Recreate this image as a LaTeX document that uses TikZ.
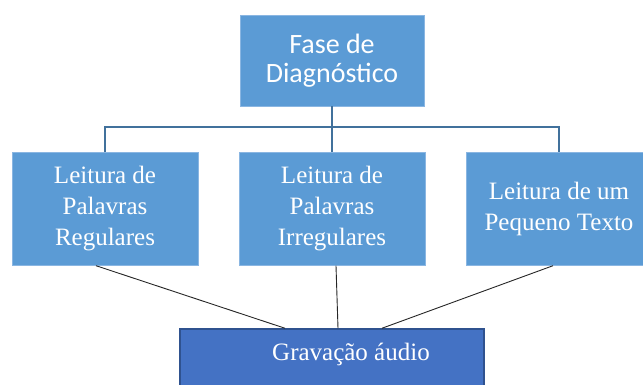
\documentclass[tikz,border=0pt]{standalone}
\usepackage{fontspec}
\setmainfont{Liberation Serif}
\newfontfamily\calibri{Carlito}
\usetikzlibrary{calc}
\definecolor{caixa}{HTML}{5B9BD5}
\definecolor{caixaborda}{HTML}{8AB6E2}
\definecolor{ramos}{HTML}{41719C}
\definecolor{audio}{HTML}{4472C4}
\definecolor{audioborda}{HTML}{2F528F}

\begin{document}
\begin{tikzpicture}[x=1pt, y=-1pt,
    caixa/.style={draw=caixaborda, fill=caixa, text=white, align=center,
        minimum width=186pt, minimum height=113pt, inner sep=0pt,
        font=\fontsize{25}{31}\selectfont},
    topo/.style={caixa, minimum width=184pt, minimum height=91pt,
        font=\calibri\fontsize{28}{29}\selectfont},
    ramo/.style={draw=ramos, line width=2pt},
    ligacao/.style={draw=black!85, line width=0.9pt}]
    \clip (0,0) rectangle (643,385);
    \fill[white] (0,0) rectangle (643,385);

    % === Top: phase ===
    \node[topo] (fase) at (332,60.5) {Fase de\\Diagnóstico};

    % === Middle: three reading tasks ===
    \node[caixa] (leitA) at (105,209) {Leitura de\\Palavras\\Regulares};
    \node[caixa] (leitB) at (332,209) {Leitura de\\Palavras\\Irregulares};
    \node[caixa] (leitC) at (559,209) {Leitura de um\\Pequeno Texto};

    % Tree connector
    \draw[ramo] (fase.south) -- ++(0,21) coordinate (junta);
    \draw[ramo] (leitA.north) |- (junta) -| (leitC.north);
    \draw[ramo] (junta) -- (leitB.north);

    % === Bottom: recording ===
    \node[draw=audioborda, line width=1.5pt, fill=audio,
        minimum width=304pt, minimum height=80pt] (gravacao) at (332,369) {};
    \node[text=white, font=\fontsize{25}{31}\selectfont] (gravtxt) at (351,354) {Gravação áudio};

    % Lines to the recording box
    \draw[ligacao] ($(leitA.south)+(-9,0)$) -- ($(gravacao.north)+(-47,0)$);
    \draw[ligacao] ($(leitB.south)+(4,0)$) -- ($(gravacao.north)+(6,0)$);
    \draw[ligacao] ($(leitC.south)+(-6,0)$) -- ($(gravacao.north)+(50,0)$);
\end{tikzpicture}
\end{document}
